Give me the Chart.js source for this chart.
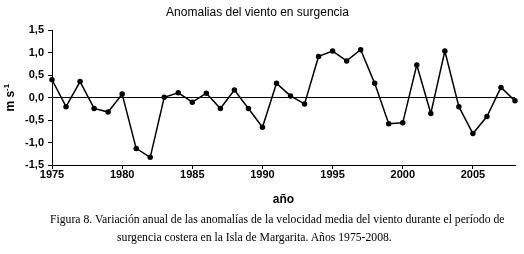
<!DOCTYPE html>
<html>
<head>
<meta charset="utf-8">
<script src="https://cdn.jsdelivr.net/npm/chart.js@4/dist/chart.umd.min.js"></script>
<style>
  body { margin: 0; background: #fff; }
  #wrap { position: relative; width: 524px; height: 254px; }
  #chart-1 { position: absolute; left: 0; top: 0; }
  .cap { position: absolute; font-family: "Liberation Serif", "Times New Roman", serif; font-size: 11.7px; color: #000; white-space: nowrap; }
</style>
</head>
<body>
<div id="wrap">
  <canvas id="chart-1" width="524" height="254"></canvas>
  <div class="cap" style="left:50px; top:213px;">Figura 8. Variación anual de las anomalías de la velocidad media del viento durante el período de</div>
  <div class="cap" style="left:117px; top:231px;">surgencia costera en la Isla de Margarita. Años 1975-2008.</div>
</div>
<script>
var years = [1975, 1976, 1977, 1978, 1979, 1980, 1981, 1982, 1983, 1984, 1985, 1986, 1987, 1988, 1989, 1990, 1991,
             1992, 1993, 1994, 1995, 1996, 1997, 1998, 1999, 2000, 2001, 2002, 2003, 2004, 2005, 2006, 2007, 2008];
var anomalias = [0.40, -0.20, 0.36, -0.24, -0.32, 0.08, -1.13, -1.33, 0.01, 0.11, -0.10, 0.10, -0.24, 0.17, -0.24, -0.66, 0.32,
                 0.04, -0.14, 0.92, 1.04, 0.82, 1.07, 0.32, -0.58, -0.56, 0.73, -0.35, 1.04, -0.20, -0.80, -0.42, 0.23, -0.07];
var titulo = "Anomalias del viento en surgencia";
var x_titulo = "año";

var puntos = [];
for (let i = 0; i < years.length; i++) {
    puntos.push({ x: years[i], y: anomalias[i] });
}

// y axis title "m s-1" with superscript
const yTitlePlugin = {
    id: 'yTitle',
    afterDraw(chart) {
        const c = chart.ctx;
        const mid = (chart.chartArea.top + chart.chartArea.bottom) / 2;
        c.save();
        c.translate(14, mid);
        c.rotate(-Math.PI / 2);
        c.fillStyle = '#000';
        c.textBaseline = 'alphabetic';
        c.font = 'bold 12px "Liberation Sans", Arial, sans-serif';
        const w1 = c.measureText('m s').width;
        c.font = 'bold 8px "Liberation Sans", Arial, sans-serif';
        const w2 = c.measureText('-1').width;
        const x0 = -(w1 + w2) / 2;
        c.font = 'bold 12px "Liberation Sans", Arial, sans-serif';
        c.fillText('m s', x0, 0);
        c.font = 'bold 8px "Liberation Sans", Arial, sans-serif';
        c.fillText('-1', x0 + w1, -5);
        c.restore();
    }
};

const ctx = document.getElementById("chart-1").getContext("2d");
const myChart = new Chart(ctx, {
    type: "scatter",
    data: {
        datasets: [{
            data: puntos,
            showLine: true,
            borderColor: '#000',
            backgroundColor: '#000',
            borderWidth: 1.5,
            pointRadius: 2,
            pointHoverRadius: 2,
            clip: false,
        }],
    },
    options: {
        responsive: false,
        animation: false,
        layout: {
            padding: { top: 0, right: 9, left: 0, bottom: 47 },
        },
        plugins: {
            legend: { display: false },
            tooltip: { enabled: false },
            title: {
                display: true,
                text: titulo,
                color: '#000',
                font: { family: '"Liberation Sans", Arial, sans-serif', size: 12, weight: 'normal' },
                padding: { top: 5, bottom: 11 },
            },
        },
        scales: {
            x: {
                type: 'linear',
                min: 1975,
                max: 2008,
                afterFit: (scale) => { scale.height = 42; },
                ticks: {
                    stepSize: 5,
                    includeBounds: false,
                    color: '#000',
                    padding: -1,
                    maxRotation: 0,
                    font: { family: '"Liberation Sans", Arial, sans-serif', size: 11, weight: 'bold' },
                    callback: (v) => String(v),
                },
                grid: {
                    drawOnChartArea: false,
                    tickColor: '#000',
                    tickLength: 4,
                },
                border: { display: true, color: '#000', width: 1 },
                title: {
                    display: true,
                    text: x_titulo,
                    color: '#000',
                    font: { family: '"Liberation Sans", Arial, sans-serif', size: 12, weight: 'bold' },
                    padding: { top: 4, bottom: 0 },
                },
            },
            y: {
                min: -1.5,
                max: 1.5,
                afterFit: (scale) => { scale.width = 52; },
                ticks: {
                    stepSize: 0.5,
                    color: '#000',
                    padding: 4,
                    font: { family: '"Liberation Sans", Arial, sans-serif', size: 11, weight: 'bold' },
                    callback: (v) => v.toFixed(1).replace('.', ','),
                },
                grid: {
                    color: (c) => (c.tick && c.tick.value === 0) ? '#000' : 'rgba(0,0,0,0)',
                    tickColor: '#000',
                    tickLength: 4,
                },
                border: { display: true, color: '#000', width: 1 },
            },
        },
    },
    plugins: [yTitlePlugin],
});
</script>
</body>
</html>
